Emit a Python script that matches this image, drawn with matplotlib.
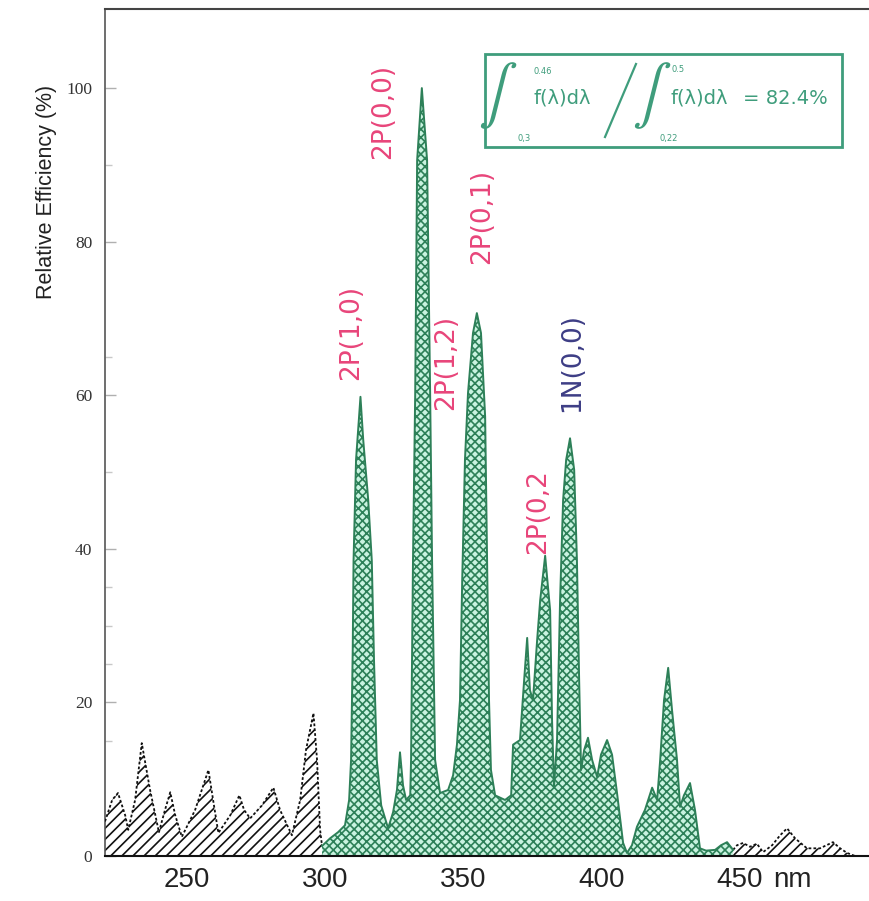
import matplotlib
matplotlib.use('Agg')
import matplotlib.pyplot as plt
import matplotlib.transforms as mtrans
import numpy as np
from matplotlib.patches import Rectangle
from matplotlib.lines import Line2D

# ---------------- data ----------------
wavelength_nm = [
    220.3, 222.9, 225.0, 227.6, 228.7, 231.2, 233.6, 236.6, 239.8, 242.0,
    243.9, 245.7, 248.1, 252.9, 257.7, 259.4, 261.3, 265.6, 268.9, 270.6,
    272.8, 277.1, 281.2, 283.6, 287.9, 290.9, 293.0, 295.7, 297.0, 298.1,
    298.8, 301.7, 304.6, 307.1, 308.6, 309.3, 309.9, 310.2, 311.1, 312.7,
    313.7, 315.5, 316.8, 317.6, 318.6, 320.2, 322.7, 324.5, 325.9, 327.0,
    328.1, 329.2, 330.7, 331.0, 331.7, 332.5, 333.2, 334.9, 336.8, 337.9,
    338.6, 339.7, 341.5, 344.4, 346.2, 347.6, 348.7, 349.5, 350.5, 351.6,
    353.4, 354.8, 356.3, 357.8, 358.5, 359.2, 359.9, 361.4, 365.0, 367.2,
    367.9, 370.4, 371.9, 373.0, 374.0, 375.1, 376.6, 377.7, 379.5, 381.3,
    382.0, 382.7, 383.8, 384.9, 386.0, 387.1, 388.5, 390.0, 391.0, 391.8,
    392.5, 393.6, 395.0, 396.5, 398.3, 399.7, 401.9, 403.7, 405.5, 407.7,
    409.1, 410.9, 412.7, 415.6, 418.2, 420.0, 421.1, 422.5, 424.0, 425.4,
    427.2, 428.3, 429.7, 431.9, 433.7, 435.5, 437.7, 441.0, 443.1, 445.3,
    447.5, 448.9, 451.1, 453.6, 456.1, 458.3, 461.6, 464.5, 467.0, 469.9,
    474.2, 478.9, 483.6, 486.2, 488.7, 491.6, 497.0]
efficiency_pct = [
    4.5, 7.3, 8.2, 5.3, 3.4, 7.3, 14.7, 8.6, 3.1, 6.0,
    8.3, 5.3, 2.5, 6.0, 11.2, 7.3, 3.0, 5.3, 7.9, 6.0,
    4.9, 6.6, 8.9, 6.0, 2.7, 7.3, 13.8, 18.6, 12.5, 3.4,
    1.3, 2.3, 3.1, 4.0, 7.3, 12.5, 26.8, 38.5, 51.6, 59.8,
    54.2, 46.4, 38.5, 25.5, 12.5, 6.6, 3.6, 5.7, 8.6, 13.5,
    9.2, 7.3, 7.9, 12.5, 38.5, 60.3, 90.6, 100.0, 90.6, 60.3,
    38.5, 12.5, 8.2, 8.6, 10.5, 14.5, 20.3, 35.9, 51.6, 60.3,
    68.1, 70.7, 68.1, 57.2, 38.5, 20.3, 11.2, 7.9, 7.3, 7.9,
    14.5, 15.1, 22.9, 28.4, 21.6, 20.3, 28.1, 33.3, 39.1, 32.0,
    17.7, 9.0, 15.1, 33.3, 46.4, 51.6, 54.4, 50.3, 38.5, 22.9,
    11.2, 13.8, 15.4, 12.5, 10.3, 13.2, 15.1, 13.2, 8.2, 1.7,
    0.4, 1.4, 3.8, 6.0, 8.9, 7.3, 12.5, 20.3, 24.5, 19.0,
    12.5, 6.4, 7.9, 9.5, 6.0, 1.0, 0.7, 0.8, 1.4, 1.8,
    0.8, 1.4, 1.7, 1.2, 1.6, 0.5, 1.4, 2.7, 3.6, 2.3,
    1.0, 1.0, 1.8, 1.0, 0.4, 0.0, 0.0]

band_nm = [298.8, 447.5]          # detector-band (green) limits

peak_labels = ['2P(1,0)', '2P(0,0)', '2P(1,2)', '2P(0,1)', '2P(0,2', '1N(0,0)']
peak_label_x = [309.3, 320.9, 343.7, 356.7, 376.9, 389.2]
peak_label_y = [68.2, 96.9, 64.3, 83.3, 44.9, 64.3]

xticks = [250, 300, 350, 400, 450]
xtick_labels = ['250', '300', '350', '400', '450']
yticks = [0, 20, 40, 60, 80, 100]
yminor = [15, 25, 30, 35, 50, 65, 90]

# ---------------- styling ----------------
PINK = '#e8457a'
NAVY = '#3d3d85'
GREEN_LINE = '#2d8058'
GREEN_FACE = '#c9f3e0'
BOX_GREEN = '#3f9d7c'
label_colors = [PINK, PINK, PINK, PINK, PINK, NAVY]
XFONT = ['Liberation Sans', 'DejaVu Sans']

plt.rcParams['hatch.linewidth'] = 1.2

W, H = 870, 901
fig = plt.figure(figsize=(W / 100, H / 100), dpi=100)
ax = fig.add_axes([105 / W, 1 - 856 / H, 1 - 105 / W, (856 - 9) / H])

x = np.array(wavelength_nm)
y = np.array(efficiency_pct)
inband = (x >= band_nm[0]) & (x <= band_nm[1])
left = x <= band_nm[0]
right = x >= band_nm[1]

# out-of-band: black single hatch
for m in (left, right):
    ax.fill_between(x[m], 0, y[m], facecolor='white', edgecolor='#111111',
                    hatch='///', linewidth=0, zorder=2)
    ax.plot(x[m], y[m], color='#111111', lw=1.3, ls=(0, (1.5, 1.2)), zorder=3)

# in-band: green cross hatch
ax.fill_between(x[inband], 0, y[inband], facecolor=GREEN_FACE,
                edgecolor=GREEN_LINE, hatch='xxxx', linewidth=0, zorder=2)
ax.plot(x[inband], y[inband], color=GREEN_LINE, lw=1.4, zorder=3)

for t, lx, ly, c in zip(peak_labels, peak_label_x, peak_label_y, label_colors):
    ax.text(lx, ly, t, rotation=90, ha='center', va='center', color=c,
            fontsize=19, family='DejaVu Sans', zorder=4)

ax.set_xlim(220.3, 497.0)
ax.set_ylim(0, 110.3)

ax.set_xticks(xticks)
ax.set_xticklabels(xtick_labels)
ax.set_yticks(yticks)
ax.set_yticks(yminor, minor=True)
ax.tick_params(axis='x', length=0, pad=8, labelsize=20)
for lab in ax.get_xticklabels():
    lab.set_family(XFONT)
    lab.set_color('#222222')
ax.text(462.0, 0, 'nm', ha='left', va='top', fontsize=20, family=XFONT,
        color='#222222',
        transform=ax.get_xaxis_transform() +
        mtrans.ScaledTranslation(0, -8 / 72, fig.dpi_scale_trans))

ax.tick_params(axis='y', which='major', direction='in', length=8, width=1,
               color='#b0b0b0', pad=9, labelsize=12.5, labelcolor='#333333')
ax.tick_params(axis='y', which='minor', direction='in', length=5, width=1,
               color='#c8c8c8')
for lab in ax.get_yticklabels():
    lab.set_family('Liberation Serif')

ax.spines['right'].set_visible(False)
ax.spines['top'].set_color('#444444')
ax.spines['top'].set_linewidth(1.5)
ax.spines['left'].set_color('#555555')
ax.spines['left'].set_linewidth(1.2)
ax.spines['bottom'].set_color('#111111')
ax.spines['bottom'].set_linewidth(1.5)

fig.text(47 / W, 1 - 192 / H, 'Relative Efficiency (%)', rotation=90,
         ha='center', va='center', fontsize=15.5, family='Liberation Sans',
         color='#222222')

# ---------------- formula box ----------------
def fx(px):
    return px / W


def fy(py):
    return 1 - py / H


fig.add_artist(Rectangle((fx(485), fy(147)), (842 - 485) / W, (147 - 54) / H,
                         transform=fig.transFigure, fill=False,
                         edgecolor=BOX_GREEN, linewidth=2.0, zorder=5))
for cx in (498, 652):
    fig.text(fx(cx), fy(96), r'$\int$', fontsize=42, math_fontfamily='stix',
             color=BOX_GREEN, ha='center', va='center', zorder=6)
fig.text(fx(533), fy(72), '0.46', fontsize=6, color=BOX_GREEN, ha='left', va='center')
fig.text(fx(517), fy(138), '0,3', fontsize=6, color=BOX_GREEN, ha='left', va='center')
fig.text(fx(672), fy(70), '0.5', fontsize=6, color=BOX_GREEN, ha='left', va='center')
fig.text(fx(660), fy(138), '0,22', fontsize=6, color=BOX_GREEN, ha='left', va='center')
fig.text(fx(533), fy(98), 'f(λ)dλ', fontsize=14, color=BOX_GREEN, ha='left', va='center')
fig.text(fx(671), fy(98), 'f(λ)dλ', fontsize=14, color=BOX_GREEN, ha='left', va='center')
fig.text(fx(743), fy(98), '= 82.4%', fontsize=14, color=BOX_GREEN, ha='left', va='center')
fig.add_artist(Line2D([fx(605), fx(636)], [fy(137), fy(64)], transform=fig.transFigure,
                      color=BOX_GREEN, lw=1.6))

fig.savefig('out.png', dpi=100)
